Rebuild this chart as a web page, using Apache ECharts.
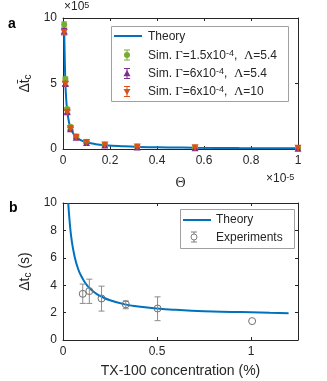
<!DOCTYPE html>
<html>
<head>
<meta charset="utf-8">
<script src="https://cdn.jsdelivr.net/npm/echarts@6/dist/echarts.min.js"></script>
<style>html,body{margin:0;padding:0;background:#fff}#main{width:327px;height:381px}</style>
</head>
<body>
<div id="main"></div>
<script>
// panel a (x in 1e-5, y in 1e5)
var thetaSim = [0.005, 0.01, 0.018, 0.032, 0.056, 0.1, 0.178, 0.316, 0.562, 1.0];
var simGreen = [9.5, 5.35, 3.05, 1.7, 0.95, 0.55, 0.32, 0.18, 0.1, 0.05];
var simPurple = [9.0, 5.0, 2.85, 1.55, 0.9, 0.5, 0.3, 0.16, 0.09, 0.05];
var simRed = [8.9, 4.95, 2.8, 1.55, 0.9, 0.5, 0.3, 0.16, 0.09, 0.05];
var simErr = [0.2, 0.15, 0.12, 0.1, 0.08, 0.06, 0.05, 0.04, 0.03, 0.02];
var thetaTheory = [0.004, 0.005, 0.006, 0.008, 0.01, 0.013, 0.018, 0.025, 0.032, 0.045, 0.056, 0.075, 0.1, 0.14, 0.18, 0.25, 0.32, 0.45, 0.56, 0.75, 1.0];
var theoryA = [9.6, 9.0, 8.2, 6.5, 5.2, 4.0, 2.9, 2.1, 1.6, 1.15, 0.92, 0.68, 0.52, 0.37, 0.29, 0.21, 0.16, 0.12, 0.095, 0.07, 0.055];

// panel b
var concExp = [0.105, 0.14, 0.205, 0.334, 0.503, 1.006];
var dtExp = [3.37, 3.57, 3.03, 2.6, 2.3, 1.38];
var dtLow = [2.67, 2.67, 2.11, 2.28, 1.41, 1.38];
var dtHigh = [4.08, 4.44, 3.93, 2.86, 3.15, 1.38];
var concTheory = [0.028, 0.035, 0.045, 0.06, 0.08, 0.1, 0.13, 0.17, 0.2, 0.25, 0.33, 0.4, 0.5, 0.6, 0.75, 0.9, 1.0, 1.1, 1.2];
var theoryB = [10, 8.7, 7.4, 6.2, 5.2, 4.6, 3.95, 3.45, 3.2, 2.9, 2.6, 2.45, 2.3, 2.2, 2.1, 2.05, 2.02, 1.98, 1.95];

var legendA = ['Theory', 'Sim. {g|Γ}=1.5x10{sup|-4},  {g|Λ}=5.4', 'Sim. {g|Γ}=6x10{sup|-4},  {g|Λ}=5.4', 'Sim. {g|Γ}=6x10{sup|-4},  {g|Λ}=10'];
var legendB = ['Theory', 'Experiments'];

var ink = '#262626';
var font = 'Liberation Sans';
var blue = '#0072BD', green = '#77AC30', purple = '#7E2F8E', orange = '#D95319', gray = '#808080';

function zip(a, b) { return a.map(function (v, i) { return [v, b[i]]; }); }
function errData(x, y, e) { return x.map(function (v, i) { return [v, y[i] - e[i], y[i] + e[i]]; }); }

function errRender(params, api) {
  if (api.value(1) === api.value(2)) return null;
  var lo = api.coord([api.value(0), api.value(1)]);
  var hi = api.coord([api.value(0), api.value(2)]);
  var w = 3;
  var st = { stroke: api.visual('color'), lineWidth: 1 };
  return {
    type: 'group',
    children: [
      { type: 'line', shape: { x1: hi[0], y1: hi[1], x2: lo[0], y2: lo[1] }, style: st },
      { type: 'line', shape: { x1: hi[0] - w, y1: hi[1], x2: hi[0] + w, y2: hi[1] }, style: st },
      { type: 'line', shape: { x1: lo[0] - w, y1: lo[1], x2: lo[0] + w, y2: lo[1] }, style: st }
    ]
  };
}

function mainAxis(pos, grid, min, max, interval, extra) {
  var ax = {
    type: 'value', gridIndex: grid, position: pos, min: min, max: max, interval: interval,
    axisLine: { show: true, onZero: false, lineStyle: { color: ink, width: 1 } },
    axisTick: { show: true, inside: true, length: 3, lineStyle: { color: ink } },
    axisLabel: { show: true, color: ink, fontFamily: font, fontSize: 12, margin: 6 },
    splitLine: { show: false }
  };
  for (var k in extra) ax[k] = extra[k];
  return ax;
}
function boxAxis(pos, grid, min, max, interval) {
  return {
    type: 'value', gridIndex: grid, position: pos, min: min, max: max, interval: interval,
    axisLine: { show: true, onZero: false, lineStyle: { color: ink, width: 1 } },
    axisTick: { show: true, inside: true, length: 3, lineStyle: { color: ink } },
    axisLabel: { show: false }, splitLine: { show: false }
  };
}

var rich = {
  sup: { fontSize: 9, fontFamily: font, fill: ink, color: ink, verticalAlign: 'top', lineHeight: 10 },
  g: { fontSize: 13, fontFamily: 'Liberation Serif', fill: ink, color: ink },
  sub: { fontSize: 10, fontFamily: font, color: ink, verticalAlign: 'bottom', padding: [6, 0, 0, 0] }
};

// legend drawing helpers (graphic)
function errIcon(cx, cy, color, h) {
  var st = { stroke: color, lineWidth: 1 };
  return [
    { type: 'line', z: 12, shape: { x1: cx, y1: cy - h, x2: cx, y2: cy + h }, style: st },
    { type: 'line', z: 12, shape: { x1: cx - 3, y1: cy - h, x2: cx + 3, y2: cy - h }, style: st },
    { type: 'line', z: 12, shape: { x1: cx - 3, y1: cy + h, x2: cx + 3, y2: cy + h }, style: st }
  ];
}
function tri(cx, cy, r, down, color) {
  var s = down ? -1 : 1;
  return { type: 'polygon', z: 13, shape: { points: [[cx, cy - s * r], [cx - r, cy + s * r * 0.75], [cx + r, cy + s * r * 0.75]] }, style: { fill: color } };
}
function label(x, y, text) {
  return { type: 'text', z: 12, x: x, y: y, style: { text: text, fontFamily: font, fontSize: 12, fill: ink, verticalAlign: 'middle', rich: rich } };
}

var rowsA = [36, 55, 73.5, 91.5];
var g = [
  { type: 'text', left: 8, top: 17, style: { text: 'a', fontFamily: font, fontWeight: 'bold', fontSize: 14, fill: '#000' } },
  { type: 'text', left: 9, top: 201, style: { text: 'b', fontFamily: font, fontWeight: 'bold', fontSize: 14, fill: '#000' } },
  { type: 'text', left: 64, top: 1, style: { text: '×10{sup|5}', fontFamily: font, fontSize: 12, fill: ink, rich: rich } },
  { type: 'text', left: 266, top: 173, style: { text: '×10{sup|-5}', fontFamily: font, fontSize: 12, fill: ink, rich: rich } },
  { type: 'rect', z: 10, shape: { x: 111.5, y: 26.5, width: 177, height: 75 }, style: { fill: '#fff', stroke: '#a0a0a0', lineWidth: 1 } },
  { type: 'rect', z: 10, shape: { x: 180.5, y: 209.5, width: 114, height: 39 }, style: { fill: '#fff', stroke: '#a0a0a0', lineWidth: 1 } }
];
g.push({ type: 'line', z: 12, shape: { x1: 114, y1: rowsA[0], x2: 142, y2: rowsA[0] }, style: { stroke: blue, lineWidth: 2 } });
g = g.concat(errIcon(127, rowsA[1], green, 5));
g.push({ type: 'circle', z: 13, shape: { cx: 127, cy: rowsA[1], r: 3 }, style: { fill: green } });
g = g.concat(errIcon(127, rowsA[2], purple, 5));
g.push(tri(127, rowsA[2], 3.5, false, purple));
g = g.concat(errIcon(127, rowsA[3], orange, 5));
g.push(tri(127, rowsA[3], 3.5, true, orange));
for (var i = 0; i < legendA.length; i++) g.push(label(148, rowsA[i] + 0.5, legendA[i]));
g.push({ type: 'line', z: 12, shape: { x1: 183, y1: 220, x2: 211, y2: 220 }, style: { stroke: blue, lineWidth: 2 } });
g = g.concat(errIcon(194, 237, gray, 5));
g.push({ type: 'circle', z: 13, shape: { cx: 194, cy: 237, r: 3 }, style: { fill: '#fff', stroke: gray, lineWidth: 1 } });
g.push(label(216, 220, legendB[0]));
g.push(label(216, 237.5, legendB[1]));

var chart = echarts.init(document.getElementById('main'), null, { renderer: 'canvas' });
chart.setOption({
  animation: false,
  backgroundColor: '#fff',
  grid: [
    { left: 63, right: 29, top: 18, height: 131 },
    { left: 63, right: 29, top: 203, height: 137 }
  ],
  xAxis: [
    mainAxis('bottom', 0, 0, 1, 0.2, {
      name: 'Θ', nameLocation: 'middle', nameGap: 27,
      nameTextStyle: { color: ink, fontFamily: 'Liberation Serif', fontSize: 14 }
    }),
    boxAxis('top', 0, 0, 1, 0.2),
    mainAxis('bottom', 1, 0, 1.25, 0.5, {
      name: 'TX-100 concentration (%)', nameLocation: 'middle', nameGap: 24,
      nameTextStyle: { color: ink, fontFamily: font, fontSize: 14 },
      axisLabel: {
        color: ink, fontFamily: font, fontSize: 12, margin: 6,
        formatter: function (v) { return v > 1.2 ? '' : String(v); }
      }
    }),
    boxAxis('top', 1, 0, 1.25, 0.5)
  ],
  yAxis: [
    mainAxis('left', 0, 0, 10, 5, {
      name: 'Δt̄{sub|c}', nameLocation: 'middle', nameGap: 26, nameRotate: 90,
      nameTextStyle: { color: ink, fontFamily: font, fontSize: 14, rich: rich }
    }),
    boxAxis('right', 0, 0, 10, 5),
    mainAxis('left', 1, 0, 10, 2, {
      name: 'Δt{sub|c} (s)', nameLocation: 'middle', nameGap: 26, nameRotate: 90,
      nameTextStyle: { color: ink, fontFamily: font, fontSize: 14, rich: rich }
    }),
    boxAxis('right', 1, 0, 10, 2)
  ],
  series: [
    {
      name: 'Theory', type: 'line', xAxisIndex: 0, yAxisIndex: 0, symbol: 'none', smooth: true,
      data: zip(thetaTheory, theoryA), lineStyle: { color: blue, width: 2 }, z: 2
    },
    { type: 'custom', xAxisIndex: 0, yAxisIndex: 0, renderItem: errRender, itemStyle: { color: green }, data: errData(thetaSim, simGreen, simErr), z: 3 },
    { type: 'custom', xAxisIndex: 0, yAxisIndex: 0, renderItem: errRender, itemStyle: { color: purple }, data: errData(thetaSim, simPurple, simErr), z: 3 },
    { type: 'custom', xAxisIndex: 0, yAxisIndex: 0, renderItem: errRender, itemStyle: { color: orange }, data: errData(thetaSim, simRed, simErr), z: 3 },
    { name: 'simG', type: 'scatter', xAxisIndex: 0, yAxisIndex: 0, symbol: 'circle', symbolSize: 6, itemStyle: { color: green, opacity: 1 }, data: zip(thetaSim, simGreen), z: 4 },
    { name: 'simP', type: 'scatter', xAxisIndex: 0, yAxisIndex: 0, symbol: 'triangle', symbolSize: 7, itemStyle: { color: purple, opacity: 1 }, data: zip(thetaSim, simPurple), z: 4 },
    { name: 'simR', type: 'scatter', xAxisIndex: 0, yAxisIndex: 0, symbol: 'triangle', symbolRotate: 180, symbolSize: 7, itemStyle: { color: orange, opacity: 1 }, data: zip(thetaSim, simRed), z: 4 },

    {
      name: 'Theory B', type: 'line', xAxisIndex: 2, yAxisIndex: 2, symbol: 'none', smooth: true,
      data: zip(concTheory, theoryB), lineStyle: { color: blue, width: 2 }, z: 2
    },
    {
      type: 'custom', xAxisIndex: 2, yAxisIndex: 2, renderItem: errRender, itemStyle: { color: '#8c8c8c' },
      data: concExp.map(function (v, i) { return [v, dtLow[i], dtHigh[i]]; }), z: 3
    },
    {
      name: 'Experiments', type: 'scatter', xAxisIndex: 2, yAxisIndex: 2, symbol: 'circle', symbolSize: 7,
      itemStyle: { color: 'rgba(255,255,255,0)', borderColor: '#707070', borderWidth: 1, opacity: 1 }, data: zip(concExp, dtExp), z: 4
    }
  ],
  graphic: g
});
</script>
</body>
</html>
